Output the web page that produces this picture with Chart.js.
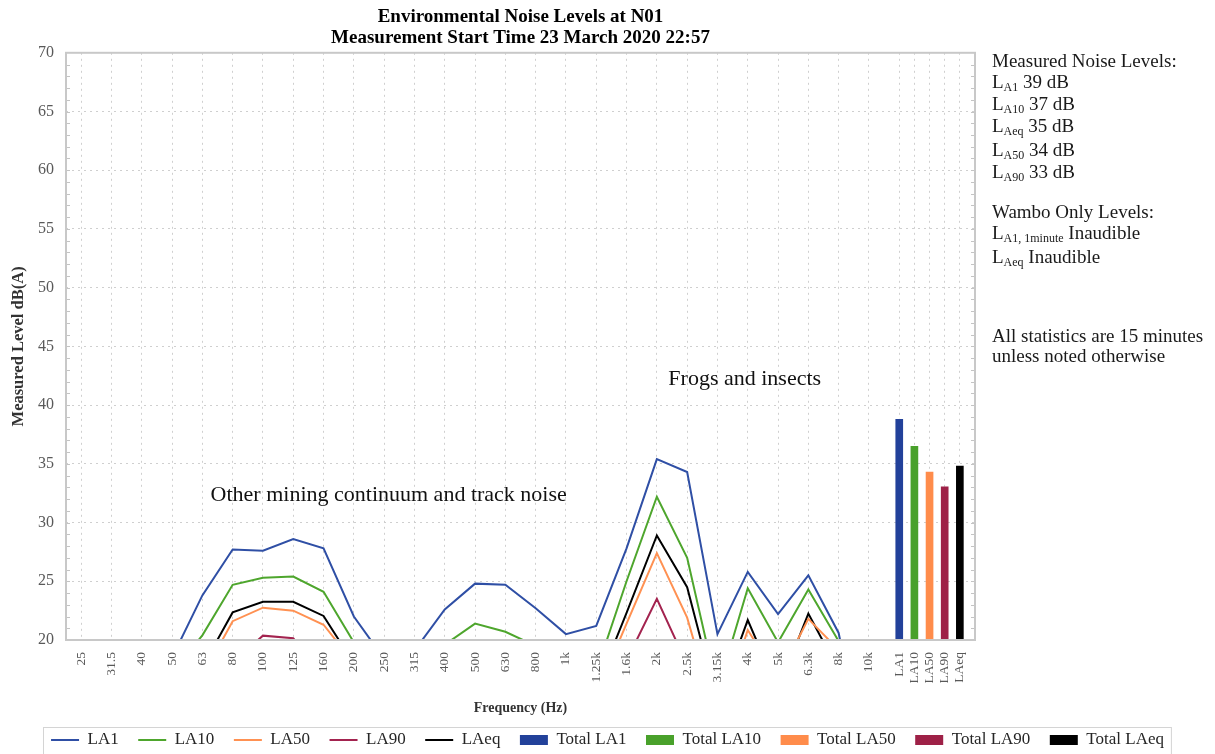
<!DOCTYPE html>
<html>
<head>
<meta charset="utf-8">
<title>Environmental Noise Levels at N01</title>
<script src="https://cdn.jsdelivr.net/npm/chart.js@4.4.1/dist/chart.umd.min.js"></script>
<style>
  html, body { margin: 0; padding: 0; background: #fff; }
  #wrap { position: relative; width: 1215px; height: 754px; overflow: hidden; }
  #notes { position: absolute; left: 992px; top: 0; font-family: 'Liberation Serif', serif; font-size: 19px; color: #1a1a1a; }
  #notes div { position: absolute; left: 0; white-space: nowrap; line-height: 20px; }
  #notes sub { font-size: 12px; vertical-align: -3px; line-height: 0; }
</style>
</head>
<body>
<div id="wrap">
  <canvas id="grafica" width="1215" height="754"></canvas>
  <div id="notes">
    <div style="top:51px">Measured Noise Levels:</div>
    <div style="top:72px">L<sub>A1</sub> 39 dB</div>
    <div style="top:94px">L<sub>A10</sub> 37 dB</div>
    <div style="top:116px">L<sub>Aeq</sub> 35 dB</div>
    <div style="top:140px">L<sub>A50</sub> 34 dB</div>
    <div style="top:162px">L<sub>A90</sub> 33 dB</div>
    <div style="top:202px">Wambo Only Levels:</div>
    <div style="top:223px">L<sub>A1, 1minute</sub> Inaudible</div>
    <div style="top:247px">L<sub>Aeq</sub> Inaudible</div>
    <div style="top:326px">All statistics are 15 minutes</div>
    <div style="top:346px">unless noted otherwise</div>
  </div>
</div>
<script>
const SERIF = "'Liberation Serif', serif";

// 1/3 octave bands
const freqLabels = ['25','31.5','40','50','63','80','100','125','160','200','250','315','400','500','630','800',
                    '1k','1.25k','1.6k','2k','2.5k','3.15k','4k','5k','6.3k','8k','10k'];
const la1  = [11, 12, 14, 18.5, 23.8, 27.7, 27.6, 28.6, 27.8, 22.0, 18.4, 19.1, 22.6, 24.8, 24.7, 22.7,
              20.5, 21.2, 27.8, 35.4, 34.3, 20.5, 25.8, 22.2, 25.5, 20.6, 8];
const la10 = [9, 10, 11, 17.2, 20.4, 24.7, 25.3, 25.4, 24.1, 19.8, 15.5, 16.5, 19.6, 21.4, 20.7, 19.5,
              17.5, 17.3, 25.0, 32.2, 27.0, 15.7, 24.4, 19.8, 24.3, 19.9, 10];
const la50 = [7, 8, 9, 12, 16.9, 21.6, 22.75, 22.5, 21.3, 18.05, 13, 12, 14.5, 15.5, 15, 14,
              13, 15.3, 21.4, 27.4, 21.9, 13.0, 20.85, 16.75, 21.8, 19.15, 9];
const la90 = [5, 6, 7, 9, 12, 18.1, 20.37, 20.15, 17, 13, 10, 9, 10, 11, 11, 10,
              9, 11, 18.25, 23.5, 17.9, 10, 15, 12, 16, 12, 7];
const laeq = [8, 9, 10, 13, 17.7, 22.35, 23.25, 23.25, 22.05, 18.0, 14, 13.5, 15.5, 17, 16.5, 15.5,
              14.5, 15.9, 22.3, 28.9, 24.5, 14.6, 21.7, 15.7, 22.25, 17.4, 9];

// overall levels shown as bars at the right end of the axis
const totalLabels = ['LA1', 'LA10', 'LA50', 'LA90', 'LAeq'];
const totalPos = [27, 27.5, 28, 28.5, 29];
const totals = [38.8, 36.5, 34.3, 33.05, 34.8];

const lineNames = ['LA1', 'LA10', 'LA50', 'LA90', 'LAeq'];
const lineColors = ['#2f4fa5', '#4ea62d', '#ff9152', '#a3234f', '#000000'];
const barColors = ['#22419a', '#49a12b', '#ff8c4b', '#9e2147', '#000000'];

const noteTexts = ['Other mining continuum and track noise', 'Frogs and insects'];
const noteX = [10.15, 21.9];
const noteY = [32.3, 42.2];

const allLabels = freqLabels.concat(totalLabels);
const tickPos = freqLabels.map((f, i) => i).concat(totalPos);

let datasets = [];
[la1, la10, la50, la90, laeq].forEach((vals, k) => {
    datasets.push({
        type: 'line',
        label: lineNames[k],
        data: vals.map((v, i) => ({x: i, y: v})),
        borderColor: lineColors[k],
        backgroundColor: lineColors[k],
        borderWidth: 2,
        pointRadius: 0,
        tension: 0
    });
});
totals.forEach((v, k) => {
    datasets.push({
        type: 'bar',
        label: 'Total ' + totalLabels[k],
        data: [{x: totalPos[k], y: v}],
        backgroundColor: barColors[k],
        borderColor: barColors[k],
        borderWidth: 0,
        barThickness: 7,
        grouped: false
    });
});

// frame round the plot, small inner ticks every 1 dB, and the two notes
const framePlugin = {
    id: 'frame',
    afterDatasetsDraw(chart) {
        const {ctx, chartArea: a, scales} = chart;
        ctx.save();
        ctx.strokeStyle = '#c4c4c4';
        ctx.lineWidth = 1;
        for (let v = 21; v < 70; v++) {
            const y = Math.round(scales.y.getPixelForValue(v)) + 0.5;
            ctx.beginPath();
            ctx.moveTo(a.left, y); ctx.lineTo(a.left + 4, y);
            ctx.moveTo(a.right, y); ctx.lineTo(a.right - 4, y);
            ctx.stroke();
        }
        ctx.lineWidth = 2;
        ctx.strokeStyle = '#c8c8c8';
        ctx.strokeRect(a.left, a.top, a.right - a.left, a.bottom - a.top);

        ctx.fillStyle = '#111';
        ctx.font = '22px ' + SERIF;
        ctx.textAlign = 'center';
        ctx.textBaseline = 'middle';
        noteTexts.forEach((t, i) => {
            ctx.fillText(t, scales.x.getPixelForValue(noteX[i]), scales.y.getPixelForValue(noteY[i]));
        });
        ctx.restore();
    },
    afterDraw(chart) {
        const lg = chart.legend;
        if (!lg || !lg.legendHitBoxes.length) return;
        const boxes = lg.legendHitBoxes;
        const left = boxes[0].left - 8;
        const last = boxes[boxes.length - 1];
        const right = last.left + last.width + 7;
        const ctx = chart.ctx;
        ctx.save();
        ctx.strokeStyle = '#d4d4d4';
        ctx.lineWidth = 1;
        ctx.strokeRect(Math.round(left) + 0.5, 727.5, right - left, 40);
        ctx.restore();
    }
};

const context = document.getElementById('grafica').getContext('2d');
const config = {
    type: 'line',
    data: {datasets: datasets},
    options: {
        responsive: false,
        animation: false,
        devicePixelRatio: 1,
        layout: {padding: {left: 0, right: 0, top: 0, bottom: -4.5}},
        plugins: {
            title: {
                display: true,
                fullSize: false,
                text: ['Environmental Noise Levels at N01', 'Measurement Start Time 23 March 2020 22:57'],
                color: '#000',
                font: {family: SERIF, size: 19, weight: 'bold', lineHeight: 1.1},
                padding: {top: 7, bottom: 4}
            },
            legend: {
                position: 'bottom',
                labels: {
                    font: {family: SERIF, size: 17},
                    color: '#262626',
                    padding: 19.5,
                    usePointStyle: true,
                    pointStyleWidth: 28,
                    boxHeight: 10,
                    generateLabels: (chart) => {
                        const items = Chart.defaults.plugins.legend.labels.generateLabels(chart);
                        items.forEach(it => {
                            const ds = chart.data.datasets[it.datasetIndex];
                            it.pointStyle = ds.type === 'bar' ? 'rect' : 'line';
                        });
                        return items;
                    }
                }
            },
            tooltip: {enabled: false}
        },
        scales: {
            x: {
                type: 'linear',
                min: -0.5,
                max: 29.5,
                offset: false,
                afterBuildTicks: (scale) => { scale.ticks = tickPos.map(v => ({value: v})); },
                afterFit: (scale) => { scale.height = 72; },
                ticks: {
                    autoSkip: false,
                    minRotation: 90,
                    maxRotation: 90,
                    padding: 12,
                    color: '#595959',
                    font: {family: SERIF, size: 13.5},
                    callback: (value, index) => allLabels[index]
                },
                grid: {color: '#cfcfcf', drawTicks: false, offset: false},
                border: {display: false, dash: [2, 4]},
                title: {
                    display: true,
                    text: 'Frequency (Hz)',
                    color: '#333',
                    font: {family: SERIF, size: 14, weight: 'bold'},
                    padding: {top: 0, bottom: -5}
                }
            },
            y: {
                min: 20,
                max: 70,
                afterFit: (scale) => { scale.width = 66; },
                ticks: {
                    stepSize: 5,
                    padding: 12,
                    color: '#595959',
                    font: {family: SERIF, size: 16}
                },
                grid: {color: '#cfcfcf', drawTicks: false},
                border: {display: false, dash: [2, 4]},
                title: {
                    display: true,
                    text: 'Measured Level dB(A)',
                    color: '#333',
                    font: {family: SERIF, size: 16.5, weight: 'bold'},
                    padding: {top: 9, bottom: 0}
                }
            },
            yR: {
                position: 'right',
                min: 20,
                max: 70,
                afterFit: (scale) => { scale.width = 240; },
                ticks: {display: false},
                grid: {display: false},
                border: {display: false}
            }
        }
    },
    plugins: [framePlugin]
};
window.myChart = new Chart(context, config);
</script>
</body>
</html>
